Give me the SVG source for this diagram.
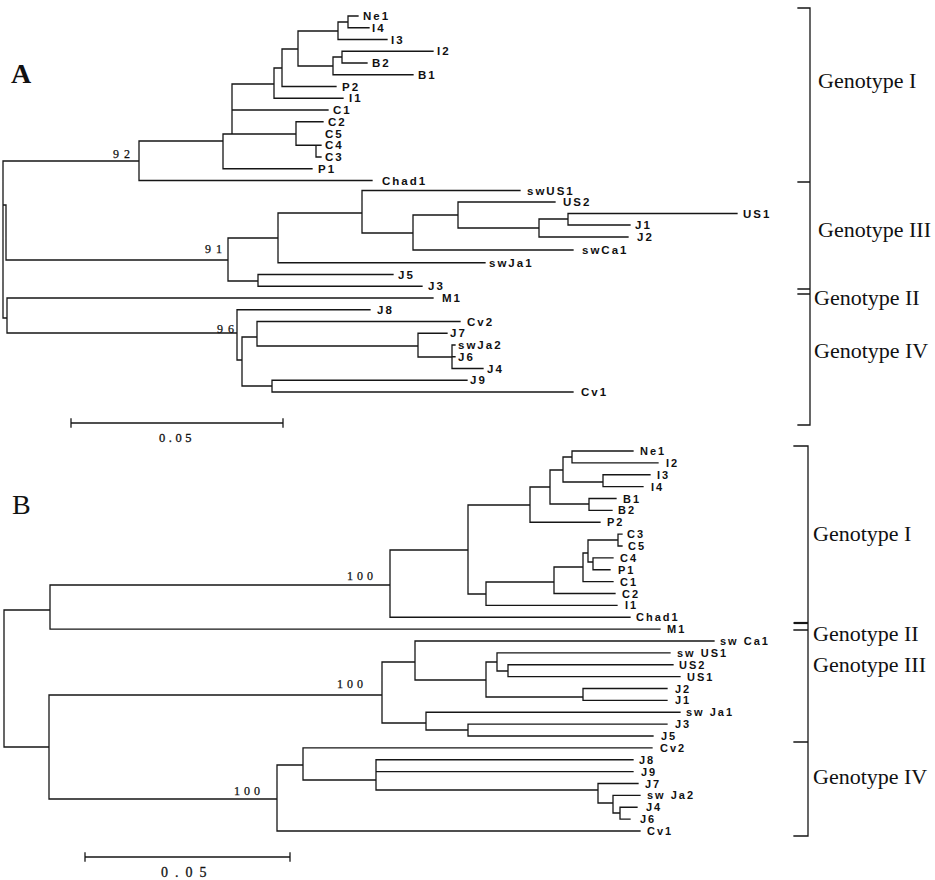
<svg xmlns="http://www.w3.org/2000/svg" width="935" height="880" viewBox="0 0 935 880">
<style>
.br{fill:none;stroke:#161616;stroke-width:1.3;stroke-linecap:square}
.lf{font-family:"Liberation Sans",Arial,sans-serif;font-size:11.5px;font-weight:bold;letter-spacing:2px;fill:#111;dominant-baseline:central}
.lb{font-family:"Liberation Sans",Arial,sans-serif;font-size:11px;font-weight:bold;letter-spacing:2px;fill:#111;dominant-baseline:central}
.bs{font-family:"Liberation Serif","Times New Roman",serif;font-size:12px;letter-spacing:5px;fill:#111;stroke:#111;stroke-width:0.25}
.bsb{font-family:"Liberation Serif","Times New Roman",serif;font-size:12px;letter-spacing:4px;fill:#111;stroke:#111;stroke-width:0.25}
.gt{font-family:"Liberation Serif","Times New Roman",serif;font-size:22px;fill:#111;dominant-baseline:central}
.pl{font-family:"Liberation Serif","Times New Roman",serif;font-size:28px;fill:#111}
.sc{font-family:"Liberation Serif","Times New Roman",serif;fill:#111;stroke:#111;stroke-width:0.3}
</style>
<rect width="935" height="880" fill="#fff"/>

<g id="connectors">
<!-- Tree A branches -->
<path class="br" d="
M3,161 V318 M3,161 H139
M139,141 V180.5 M139,141 H223 M139,180.5 H372
M223,134 V168.75 M223,168.75 H312 M223,134 H296
M232,84 V134 M232,84 H274 M232,110 H328
M296,121.75 V145.25 M296,121.75 H323 M296,145.25 H316
M316,145.25 V157 M316,145.25 H321 M316,157 H321
M274,68 V98.25 M274,68 H282 M274,98.25 H343
M282,49 V86.5 M282,49 H298 M282,86.5 H336
M298,31 V66 M298,31 H338 M298,66 H333
M333,57 V74.75 M333,57 H342 M333,74.75 H413
M342,51.25 V63 M342,51.25 H433 M342,63 H367
M338,22 V39.5 M338,22 H348 M338,39.5 H387
M348,16 V27.75 M348,16 H358 M348,27.75 H369
M3,205 H6 M6,205 V260 M6,260 H228
M228,238 V281 M228,238 H278 M228,281 H258
M258,274.5 V286.25 M258,274.5 H393 M258,286.25 H422
M278,213 V262.75 M278,213 H362 M278,262.75 H485
M362,190.5 V233 M362,190.5 H520 M362,233 H413
M413,215 V250 M413,215 H458 M413,250 H573
M458,202 V228 M458,202 H555 M458,228 H539
M539,219 V237 M539,219 H568 M539,237 H628
M568,213.5 V225 M568,213.5 H737 M568,225 H630
M3,318 H7 M7,298 V333 M7,298 H433 M7,333 H237
M237,309.75 V360 M237,309.75 H370 M237,360 H242
M242,337 V386 M242,337 H257 M242,386 H272
M257,321.5 V346 M257,321.5 H460 M257,346 H418
M418,333.25 V357 M418,333.25 H447 M418,357 H452
M452,345 V368.5 M452,345 H455 M452,356.75 H455 M452,368.5 H483
M272,380.25 V392 M272,380.25 H467 M272,392 H573
"/>
<!-- Tree B branches -->
<path class="br" d="
M4,610 V747 M4,610 H50 M4,747 H49
M50,585 V629.1 M50,585 H390 M50,629.1 H660
M390,550 V617.25 M390,550 H468 M390,617.25 H630
M468,505 V594 M468,505 H530 M468,594 H486
M530,487 V522.25 M530,487 H550 M530,522.25 H600
M550,470 V504 M550,470 H563 M550,504 H589
M589,498.5 V510.4 M589,498.5 H616 M589,510.4 H612
M563,457 V482 M563,457 H572 M563,482 H603
M572,451 V462.9 M572,451 H633 M572,462.9 H658
M603,474.75 V486.6 M603,474.75 H650 M603,486.6 H643
M486,582 V605.4 M486,582 H554 M486,605.4 H617
M554,567 V593.5 M554,567 H583 M554,593.5 H615
M583,553 V581.6 M583,553 H588 M583,581.6 H613
M588,540 V562 M588,540 H618 M588,562 H593
M618,534.1 V546 M618,534.1 H622 M618,546 H622
M593,557.9 V569.75 M593,557.9 H613 M593,569.75 H610
M49,695 V799 M49,695 H382 M49,799 H277
M382,662 V723 M382,662 H415 M382,723 H426
M415,641 V680 M415,641 H714 M415,680 H486
M486,662 V697 M486,662 H497 M486,697 H583
M497,652.9 V671 M497,652.9 H670 M497,671 H508
M508,664.75 V676.6 M508,664.75 H673 M508,676.6 H680
M583,688.5 V700.4 M583,688.5 H667 M583,700.4 H667
M426,712.25 V730 M426,712.25 H680 M426,730 H468
M468,724.1 V736 M468,724.1 H667 M468,736 H653
M277,765 V831 M277,765 H303 M277,831 H640
M303,747.9 V780 M303,747.9 H652 M303,780 H376
M376,759.75 V790 M376,759.75 H633 M376,771.6 H633 M376,790 H598
M598,783.5 V803 M598,783.5 H638 M598,803 H613
M613,795.4 V813 M613,795.4 H640 M613,813 H620
M620,807.25 V819.1 M620,807.25 H637 M620,819.1 H630
"/>
</g>

<g id="panel-A-label"><text class="pl" x="11" y="83" font-weight="bold">A</text></g>
<g id="panel-B-label"><text class="pl" x="12" y="514">B</text></g>

<!-- Tree A leaves -->
<g id="A-Ne1"><text class="lf" x="363" y="16">Ne1</text></g>
<g id="A-I4"><text class="lf" x="372" y="27.75">I4</text></g>
<g id="A-I3"><text class="lf" x="391" y="39.5">I3</text></g>
<g id="A-I2"><text class="lf" x="437" y="51.25">I2</text></g>
<g id="A-B2"><text class="lf" x="372" y="63">B2</text></g>
<g id="A-B1"><text class="lf" x="418" y="74.75">B1</text></g>
<g id="A-P2"><text class="lf" x="342" y="86.5">P2</text></g>
<g id="A-I1"><text class="lf" x="349" y="98.25">I1</text></g>
<g id="A-C1"><text class="lf" x="333" y="110">C1</text></g>
<g id="A-C2"><text class="lf" x="328" y="121.75">C2</text></g>
<g id="A-C5"><text class="lf" x="325" y="133.5">C5</text></g>
<g id="A-C4"><text class="lf" x="325" y="145.25">C4</text></g>
<g id="A-C3"><text class="lf" x="325" y="157">C3</text></g>
<g id="A-P1"><text class="lf" x="318" y="168.75">P1</text></g>
<g id="A-Chad1"><text class="lf" x="382" y="180.5">Chad1</text></g>
<g id="A-swUS1"><text class="lf" x="527" y="190.5">swUS1</text></g>
<g id="A-US2"><text class="lf" x="563" y="202">US2</text></g>
<g id="A-US1"><text class="lf" x="743" y="213.5">US1</text></g>
<g id="A-J1"><text class="lf" x="635" y="225">J1</text></g>
<g id="A-J2"><text class="lf" x="637" y="237">J2</text></g>
<g id="A-swCa1"><text class="lf" x="582" y="250">swCa1</text></g>
<g id="A-swJa1"><text class="lf" x="489" y="262.75">swJa1</text></g>
<g id="A-J5"><text class="lf" x="398" y="274.5">J5</text></g>
<g id="A-J3"><text class="lf" x="428" y="286.25">J3</text></g>
<g id="A-M1"><text class="lf" x="442" y="298">M1</text></g>
<g id="A-J8"><text class="lf" x="377" y="309.75">J8</text></g>
<g id="A-Cv2"><text class="lf" x="467" y="321.5">Cv2</text></g>
<g id="A-J7"><text class="lf" x="450" y="333.25">J7</text></g>
<g id="A-swJa2"><text class="lf" x="458" y="345">swJa2</text></g>
<g id="A-J6"><text class="lf" x="458" y="356.75">J6</text></g>
<g id="A-J4"><text class="lf" x="487" y="368.5">J4</text></g>
<g id="A-J9"><text class="lf" x="470" y="380.25">J9</text></g>
<g id="A-Cv1"><text class="lf" x="581" y="392">Cv1</text></g>

<!-- Tree A bootstrap values -->
<g id="A-node92"><text class="bs" x="113" y="158">92</text></g>
<g id="A-node91"><text class="bs" x="205" y="253">91</text></g>
<g id="A-node96"><text class="bs" x="217" y="333">96</text></g>

<!-- Scale bar A -->
<g id="A-scale">
<path class="br" d="M71,423 H283 M71,419 V427 M283,419 V427"/>
<text class="sc" x="159" y="442" font-size="12.5" letter-spacing="3.5">0.05</text>
</g>

<!-- Bracket A -->
<g id="A-bracket">
<path class="br" d="M810,8 V425 M798,8 H810 M798,182 H810 M798,289 H810 M798,294 H810 M798,425 H810"/>
</g>
<g id="A-genotype-I"><text class="gt" x="818" y="80">Genotype I</text></g>
<g id="A-genotype-III"><text class="gt" x="818" y="229">Genotype III</text></g>
<g id="A-genotype-II"><text class="gt" x="814" y="297">Genotype II</text></g>
<g id="A-genotype-IV"><text class="gt" x="814" y="350">Genotype IV</text></g>

<!-- Tree B leaves -->
<g id="B-Ne1"><text class="lb" x="640" y="451">Ne1</text></g>
<g id="B-I2"><text class="lb" x="666" y="462.9">I2</text></g>
<g id="B-I3"><text class="lb" x="657" y="474.75">I3</text></g>
<g id="B-I4"><text class="lb" x="651" y="486.6">I4</text></g>
<g id="B-B1"><text class="lb" x="623" y="498.5">B1</text></g>
<g id="B-B2"><text class="lb" x="618" y="510.4">B2</text></g>
<g id="B-P2"><text class="lb" x="607" y="522.25">P2</text></g>
<g id="B-C3"><text class="lb" x="627" y="534.1">C3</text></g>
<g id="B-C5"><text class="lb" x="628" y="546">C5</text></g>
<g id="B-C4"><text class="lb" x="620" y="557.9">C4</text></g>
<g id="B-P1"><text class="lb" x="618" y="569.75">P1</text></g>
<g id="B-C1"><text class="lb" x="620" y="581.6">C1</text></g>
<g id="B-C2"><text class="lb" x="622" y="593.5">C2</text></g>
<g id="B-I1"><text class="lb" x="625" y="605.4">I1</text></g>
<g id="B-Chad1"><text class="lb" x="636" y="617.25">Chad1</text></g>
<g id="B-M1"><text class="lb" x="667" y="629.1">M1</text></g>
<g id="B-swCa1"><text class="lb" x="720" y="641">sw Ca1</text></g>
<g id="B-swUS1"><text class="lb" x="677" y="652.9">sw US1</text></g>
<g id="B-US2"><text class="lb" x="679" y="664.75">US2</text></g>
<g id="B-US1"><text class="lb" x="687" y="676.6">US1</text></g>
<g id="B-J2"><text class="lb" x="675" y="688.5">J2</text></g>
<g id="B-J1"><text class="lb" x="675" y="700.4">J1</text></g>
<g id="B-swJa1"><text class="lb" x="686" y="712.25">sw Ja1</text></g>
<g id="B-J3"><text class="lb" x="675" y="724.1">J3</text></g>
<g id="B-J5"><text class="lb" x="661" y="736">J5</text></g>
<g id="B-Cv2"><text class="lb" x="660" y="747.9">Cv2</text></g>
<g id="B-J8"><text class="lb" x="639" y="759.75">J8</text></g>
<g id="B-J9"><text class="lb" x="641" y="771.6">J9</text></g>
<g id="B-J7"><text class="lb" x="645" y="783.5">J7</text></g>
<g id="B-swJa2"><text class="lb" x="647" y="795.4">sw Ja2</text></g>
<g id="B-J4"><text class="lb" x="646" y="807.25">J4</text></g>
<g id="B-J6"><text class="lb" x="640" y="819.1">J6</text></g>
<g id="B-Cv1"><text class="lb" x="647" y="831">Cv1</text></g>

<!-- Tree B bootstrap values -->
<g id="B-node100a"><text class="bsb" x="347" y="580">100</text></g>
<g id="B-node100b"><text class="bsb" x="337" y="688">100</text></g>
<g id="B-node100c"><text class="bsb" x="234" y="795">100</text></g>

<!-- Scale bar B -->
<g id="B-scale">
<path class="br" d="M85,857 H290 M85,853 V861 M290,853 V861"/>
<text class="sc" x="161" y="877" font-size="14" letter-spacing="7">0.05</text>
</g>

<!-- Bracket B -->
<g id="B-bracket">
<path class="br" d="M808,446 V836 M794,446 H808 M794,623 H808 M794,630 H808 M794,742 H808 M794,836 H808"/>
<path d="M794,623 H808" stroke="#161616" stroke-width="2.2" fill="none"/>
</g>
<g id="B-genotype-I"><text class="gt" x="813" y="533">Genotype I</text></g>
<g id="B-genotype-II"><text class="gt" x="813" y="633">Genotype II</text></g>
<g id="B-genotype-III"><text class="gt" x="813" y="664">Genotype III</text></g>
<g id="B-genotype-IV"><text class="gt" x="813" y="776">Genotype IV</text></g>
</svg>
